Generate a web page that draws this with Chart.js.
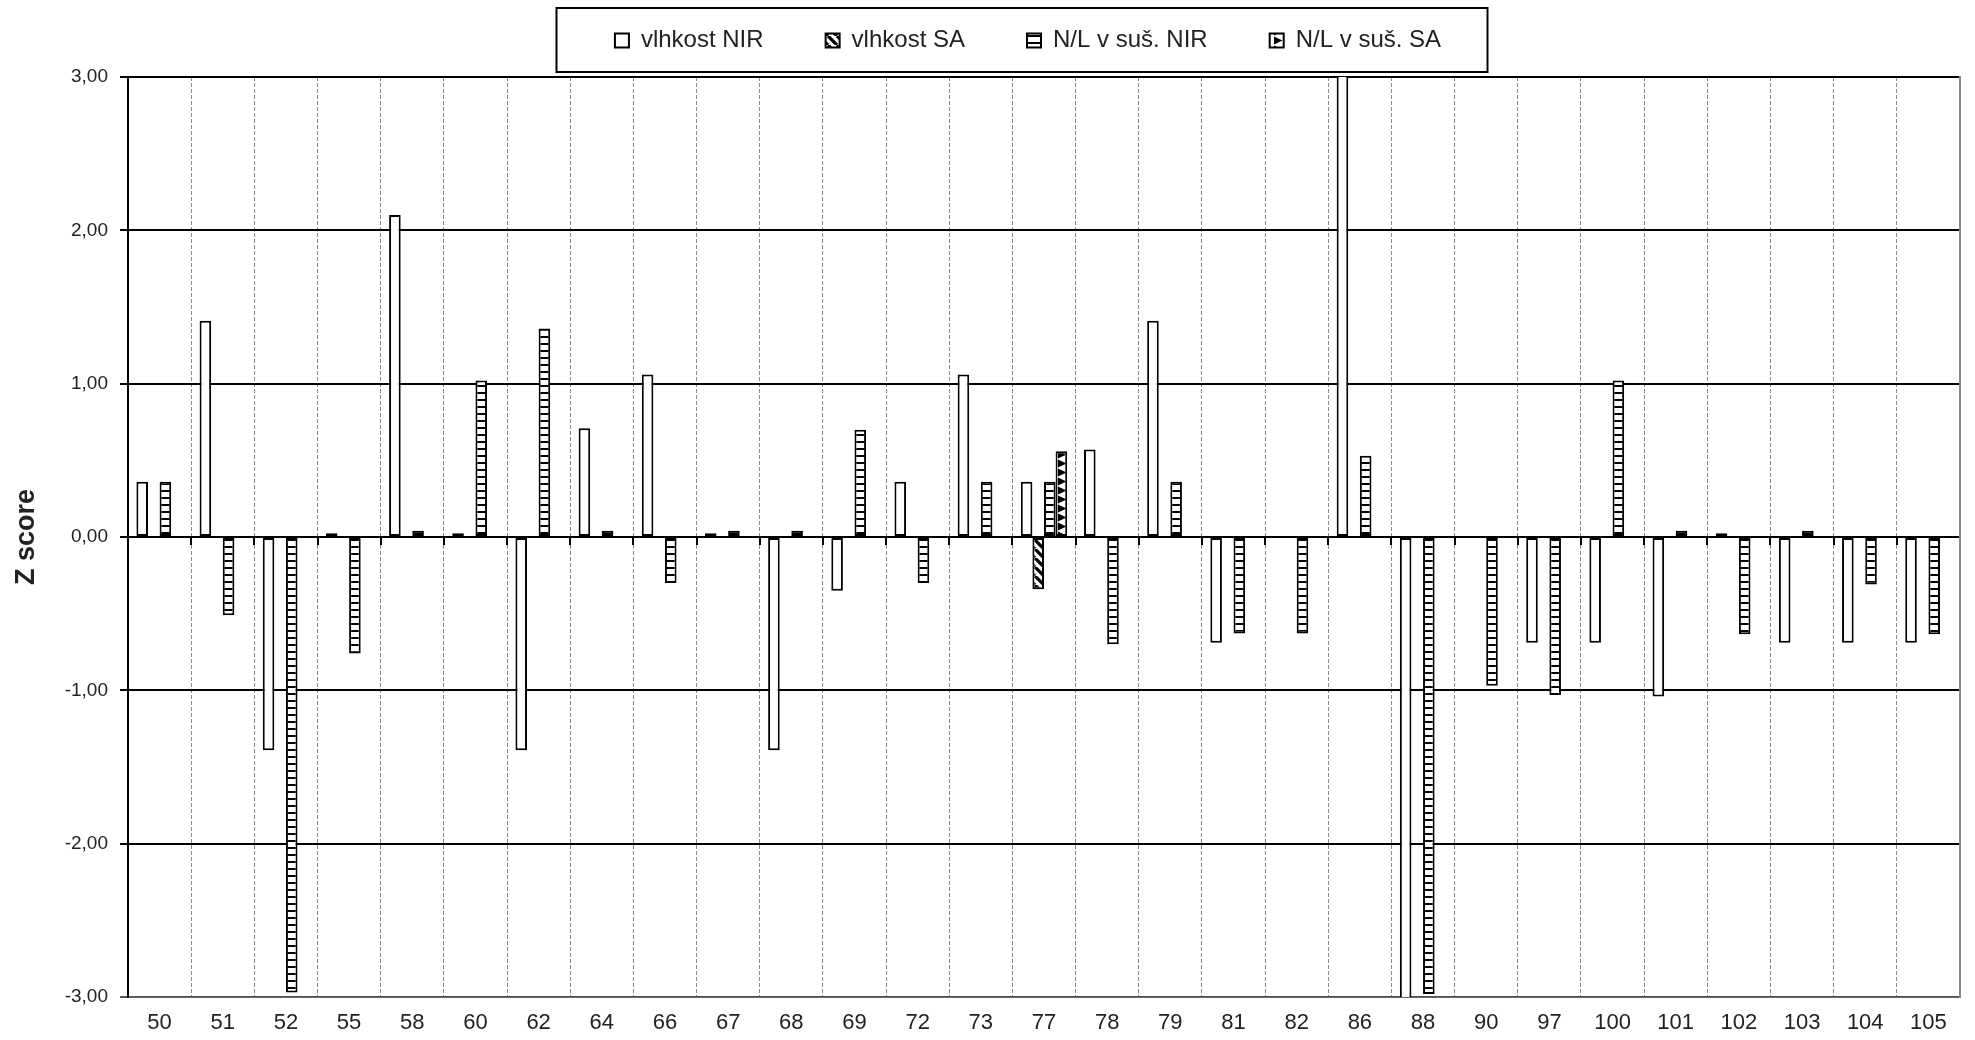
<!DOCTYPE html>
<html>
<head>
<meta charset="utf-8">
<script src="https://cdn.jsdelivr.net/npm/chart.js@4/dist/chart.umd.min.js"></script>
<style>
html,body{margin:0;padding:0;background:#fff;}
#wrap{width:1975px;height:1040px;position:relative;}
</style>
</head>
<body>
<div id="wrap"><canvas id="c" width="1975" height="1040"></canvas></div>
<script>
// ---------- data ----------
const categories = ['50','51','52','55','58','60','62','64','66','67','68','69','72','73','77','78','79','81','82','86','88','90','97','100','101','102','103','104','105'];
const seriesNames = ['vlhkost NIR','vlhkost SA','N/L v suš. NIR','N/L v suš. SA'];
const vlhkostNIR = [0.36,1.41,-1.39,0.025,2.10,0.025,-1.39,0.71,1.06,0.025,-1.39,-0.35,0.36,1.06,0.36,0.57,1.41,-0.69,null,3.6,-3.5,null,-0.69,-0.69,-1.04,0.025,-0.69,-0.69,-0.69];
const vlhkostSA  = [null,null,null,null,null,null,null,null,null,null,null,null,null,null,-0.34,null,null,null,null,null,null,null,null,null,null,null,null,null,null];
const nlNIR      = [0.36,-0.51,-2.97,-0.76,0.04,1.02,1.36,0.04,-0.30,0.04,0.04,0.70,-0.30,0.36,0.36,-0.70,0.36,-0.63,-0.63,0.53,-2.98,-0.97,-1.03,1.02,0.04,-0.635,0.04,-0.31,-0.635];
const nlSA       = [null,null,null,null,null,null,null,null,null,null,null,null,null,null,0.56,null,null,null,null,null,null,null,null,null,null,null,null,null,null];
const yMin = -3, yMax = 3, yStep = 1;
const yTitle = 'Z score';

// ---------- layout constants ----------
const FONT = "'Liberation Sans', Arial, Helvetica, sans-serif";
const LEGEND_FONT = 24;
const LEGEND_PAD = 62;
const LEGEND_AREA_H = 77;
const LEGEND_CX = 1028;
const LEGEND_TEXT_Y = 40.5;

Chart.defaults.font.family = FONT;

const ctx0 = document.getElementById('c').getContext('2d');
function tile(w, h, fn) {
  const c = document.createElement('canvas');
  c.width = w; c.height = h;
  const g = c.getContext('2d');
  g.fillStyle = '#fff'; g.fillRect(0, 0, w, h);
  g.fillStyle = '#000'; g.strokeStyle = '#000';
  fn(g, w, h);
  return ctx0.createPattern(c, 'repeat');
}
const patDiag = tile(9, 9, (g, w, h) => {
  g.lineWidth = 3.2; g.beginPath();
  for (const k of [-w, 0, w]) { g.moveTo(k, 0); g.lineTo(k + w, h); }
  g.stroke();
});
const patHoriz = tile(6, 7, (g) => { g.fillRect(0, 0, 6, 2); });
const patArrow = tile(12, 9, (g) => {
  g.beginPath(); g.moveTo(2, 0.5); g.lineTo(10.5, 4.5); g.lineTo(2, 8.5); g.closePath(); g.fill();
});

const fills = ['#ffffff', patDiag, patHoriz, patArrow];
const seriesValues = [vlhkostNIR, vlhkostSA, nlNIR, nlSA];

const datasets = seriesNames.map((name, i) => ({
  label: name,
  data: seriesValues[i],
  backgroundColor: fills[i],
  borderColor: '#000',
  borderWidth: 2,
  borderSkipped: false,
  xAxisID: 'x',
  yAxisID: 'y',
  clip: 0,
  barPercentage: 1.0,
  categoryPercentage: 0.734
}));

const legendTweak = {
  id: 'legendTweak',
  beforeLayout(chart) {
    const lg = chart.legend;
    if (lg && !lg._fitPatched) {
      const f = lg.fit;
      lg.fit = function () { f.call(this); this.height = LEGEND_AREA_H; };
      lg._fitPatched = true;
    }
  },
  afterLayout(chart) {
    const lg = chart.legend;
    if (!lg) return;
    const dx = LEGEND_CX - (lg.left + lg.right) / 2;
    const dy = LEGEND_TEXT_Y - (lg.top + LEGEND_PAD + Math.max(LEGEND_FONT, 14) / 2);
    lg.left += dx; lg.right += dx; lg.top += dy;
  },
  afterDraw(chart) {
    const lg = chart.legend;
    if (!lg || !lg.legendHitBoxes || !lg.legendHitBoxes.length) return;
    const hb = lg.legendHitBoxes;
    const last = hb[hb.length - 1];
    const x1 = hb[0].left - 59;
    const x2 = last.left + last.width + 46;
    const c = chart.ctx;
    c.save();
    c.strokeStyle = '#000';
    c.lineWidth = 2;
    c.strokeRect(Math.round(x1) + 0.5, 8, Math.round(x2 - x1), 64);
    c.restore();
  }
};

new Chart(document.getElementById('c'), {
  type: 'bar',
  data: { labels: categories, datasets: datasets },
  plugins: [legendTweak],
  options: {
    responsive: false,
    animation: false,
    devicePixelRatio: 1,
    events: [],
    layout: { padding: { left: 0, right: 15, top: 0, bottom: 0 } },
    plugins: {
      tooltip: { enabled: false },
      title: { display: false },
      legend: {
        display: true,
        position: 'top',
        align: 'center',
        labels: {
          color: '#222',
          font: { size: LEGEND_FONT, family: FONT },
          boxWidth: 14,
          boxHeight: 14,
          padding: LEGEND_PAD
        }
      }
    },
    scales: {
      x: {
        type: 'category',
        position: 'bottom',
        offset: true,
        grid: { display: true, offset: true, color: '#8a8a8a', lineWidth: 1, drawTicks: false },
        border: { display: true, color: '#666', width: 1, dash: [4, 2] },
        ticks: { color: '#222', font: { size: 22, family: FONT }, padding: 13, maxRotation: 0, autoSkip: false },
        afterFit: (s) => { s.height = 43; }
      },
      x0: {
        type: 'category',
        position: { y: 0 },
        offset: true,
        labels: categories,
        grid: { display: true, offset: true, drawOnChartArea: false, drawTicks: true, tickLength: 7, color: '#000', lineWidth: 2 },
        border: { display: true, color: '#000', width: 2 },
        ticks: { display: false }
      },
      y: {
        type: 'linear',
        position: 'left',
        min: yMin,
        max: yMax,
        grid: {
          color: (c) => (c.tick && c.tick.value === yMin ? '#555' : '#000'),
          lineWidth: 2,
          drawTicks: true,
          tickLength: 8
        },
        border: { display: true, color: '#000', width: 2 },
        ticks: {
          stepSize: yStep,
          color: '#222',
          padding: 12,
          font: { size: 19, family: FONT },
          callback: (v) => Number(v).toFixed(2).replace('.', ',')
        },
        title: {
          display: true,
          text: yTitle,
          color: '#222',
          font: { size: 27, weight: 'bold', family: FONT },
          padding: { top: 10, bottom: 0 }
        },
        afterFit: (s) => { s.width = 128; }
      },
      y2: {
        type: 'linear',
        position: 'right',
        min: yMin,
        max: yMax,
        grid: { display: true, drawOnChartArea: false, drawTicks: false },
        border: { display: true, color: '#888', width: 2 },
        ticks: { display: false },
        afterFit: (s) => { s.width = 0; }
      }
    }
  }
});
</script>
</body>
</html>
